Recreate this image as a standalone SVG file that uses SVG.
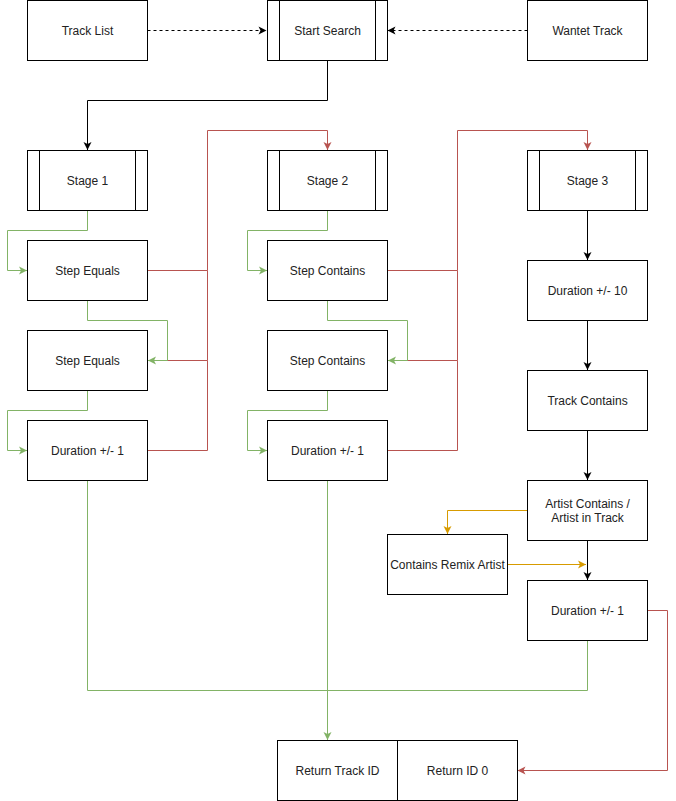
<svg xmlns="http://www.w3.org/2000/svg" width="676" height="801" viewBox="0 0 676 801">
<style>
.box{fill:#fff;stroke:#000;stroke-width:1}
.sub{fill:none;stroke:#000;stroke-width:1}
text{font-family:"Liberation Sans",Arial,Helvetica,sans-serif;font-size:12px;fill:#222;text-anchor:middle}
.e{fill:none;stroke-width:1}
.k{stroke:#000}
.g{stroke:#82b366}
.r{stroke:#b85450}
.o{stroke:#d79b00}
.d{stroke-dasharray:3 3}
</style>
<defs>
<marker id="ak" viewBox="0 0 10 10" refX="9" refY="5" markerWidth="10" markerHeight="10" markerUnits="userSpaceOnUse" orient="auto"><path d="M1,1 L9,5 L1,9 L3,5 z" fill="#000"/></marker>
<marker id="ag" viewBox="0 0 10 10" refX="9" refY="5" markerWidth="10" markerHeight="10" markerUnits="userSpaceOnUse" orient="auto"><path d="M1,1 L9,5 L1,9 L3,5 z" fill="#82b366"/></marker>
<marker id="ar" viewBox="0 0 10 10" refX="9" refY="5" markerWidth="10" markerHeight="10" markerUnits="userSpaceOnUse" orient="auto"><path d="M1,1 L9,5 L1,9 L3,5 z" fill="#b85450"/></marker>
<marker id="ao" viewBox="0 0 10 10" refX="9" refY="5" markerWidth="10" markerHeight="10" markerUnits="userSpaceOnUse" orient="auto"><path d="M1,1 L9,5 L1,9 L3,5 z" fill="#d79b00"/></marker>
</defs>
<rect width="676" height="801" fill="#fff"/>
<g id="connectors">
<path class="e k d" d="M147.5,30.5 L266.5,30.5" marker-end="url(#ak)"/>
<path class="e k d" d="M527.5,30.5 L387.5,30.5" marker-end="url(#ak)"/>
<path class="e k" d="M327.5,60.5 L327.5,100.5 L87.5,100.5 L87.5,150" marker-end="url(#ak)"/>
<path class="e r" d="M147.5,270.5 L207.5,270.5 L207.5,130.5 L327.5,130.5 L327.5,150" marker-end="url(#ar)"/>
<path class="e r" d="M147.5,360.5 L207.5,360.5 L207.5,270.5"/>
<path class="e r" d="M147.5,450.5 L207.5,450.5 L207.5,360.5"/>
<path class="e r" d="M387.5,270.5 L457.5,270.5 L457.5,130.5 L587.5,130.5 L587.5,150" marker-end="url(#ar)"/>
<path class="e r" d="M387.5,360.5 L457.5,360.5 L457.5,270.5"/>
<path class="e r" d="M387.5,450.5 L457.5,450.5 L457.5,360.5"/>
<path class="e r" d="M647.5,610.5 L667.5,610.5 L667.5,770.5 L517.5,770.5" marker-end="url(#ar)"/>
<path class="e g" d="M87.5,210.5 L87.5,230.5 L7.5,230.5 L7.5,270.5 L27,270.5" marker-end="url(#ag)"/>
<path class="e g" d="M87.5,300.5 L87.5,320.5 L167.5,320.5 L167.5,360.5 L148,360.5" marker-end="url(#ag)"/>
<path class="e g" d="M87.5,390.5 L87.5,410.5 L7.5,410.5 L7.5,450.5 L27,450.5" marker-end="url(#ag)"/>
<path class="e g" d="M327.5,210.5 L327.5,230.5 L247.5,230.5 L247.5,270.5 L267,270.5" marker-end="url(#ag)"/>
<path class="e g" d="M327.5,300.5 L327.5,320.5 L407.5,320.5 L407.5,360.5 L388,360.5" marker-end="url(#ag)"/>
<path class="e g" d="M327.5,390.5 L327.5,410.5 L247.5,410.5 L247.5,450.5 L267,450.5" marker-end="url(#ag)"/>
<path class="e g" d="M87.5,480.5 L87.5,690.5 L587.5,690.5 L587.5,640.5"/>
<path class="e g" d="M327.5,480.5 L327.5,740" marker-end="url(#ag)"/>
<path class="e k" d="M587.5,210.5 L587.5,260" marker-end="url(#ak)"/>
<path class="e k" d="M587.5,320.5 L587.5,370" marker-end="url(#ak)"/>
<path class="e k" d="M587.5,430.5 L587.5,480" marker-end="url(#ak)"/>
<path class="e k" d="M587.5,540.5 L587.5,580" marker-end="url(#ak)"/>
<path class="e o" d="M527.5,510.5 L447.5,510.5 L447.5,534" marker-end="url(#ao)"/>
<path class="e o" d="M507.5,564.5 L586,564.5" marker-end="url(#ao)"/>
</g>
<g id="track-list"><rect class="box" x="27.5" y="0.5" width="120" height="60"/><text x="87.5" y="34.5">Track List</text></g>
<g id="start-search"><rect class="box" x="267.5" y="0.5" width="120" height="60"/><path class="sub" d="M279.5,0.5 V60.5 M375.5,0.5 V60.5"/><text x="327.5" y="34.5">Start Search</text></g>
<g id="wantet-track"><rect class="box" x="527.5" y="0.5" width="120" height="60"/><text x="587.5" y="34.5">Wantet Track</text></g>
<g id="stage-1"><rect class="box" x="27.5" y="150.5" width="120" height="60"/><path class="sub" d="M39.5,150.5 V210.5 M135.5,150.5 V210.5"/><text x="87.5" y="184.5">Stage 1</text></g>
<g id="step-equals-1"><rect class="box" x="27.5" y="240.5" width="120" height="60"/><text x="87.5" y="274.5">Step Equals</text></g>
<g id="step-equals-2"><rect class="box" x="27.5" y="330.5" width="120" height="60"/><text x="87.5" y="364.5">Step Equals</text></g>
<g id="duration-1a"><rect class="box" x="27.5" y="420.5" width="120" height="60"/><text x="87.5" y="454.5">Duration +/- 1</text></g>
<g id="stage-2"><rect class="box" x="267.5" y="150.5" width="120" height="60"/><path class="sub" d="M279.5,150.5 V210.5 M375.5,150.5 V210.5"/><text x="327.5" y="184.5">Stage 2</text></g>
<g id="step-contains-1"><rect class="box" x="267.5" y="240.5" width="120" height="60"/><text x="327.5" y="274.5">Step Contains</text></g>
<g id="step-contains-2"><rect class="box" x="267.5" y="330.5" width="120" height="60"/><text x="327.5" y="364.5">Step Contains</text></g>
<g id="duration-1b"><rect class="box" x="267.5" y="420.5" width="120" height="60"/><text x="327.5" y="454.5">Duration +/- 1</text></g>
<g id="stage-3"><rect class="box" x="527.5" y="150.5" width="120" height="60"/><path class="sub" d="M539.5,150.5 V210.5 M635.5,150.5 V210.5"/><text x="587.5" y="184.5">Stage 3</text></g>
<g id="duration-10"><rect class="box" x="527.5" y="260.5" width="120" height="60"/><text x="587.5" y="294.5">Duration +/- 10</text></g>
<g id="track-contains"><rect class="box" x="527.5" y="370.5" width="120" height="60"/><text x="587.5" y="404.5">Track Contains</text></g>
<g id="artist-contains"><rect class="box" x="527.5" y="480.5" width="120" height="60"/><text x="587.5" y="507.5">Artist Contains /</text><text x="587.5" y="521.5">Artist in Track</text></g>
<g id="contains-remix"><rect class="box" x="387.5" y="534.5" width="120" height="60"/><text x="447.5" y="568.5">Contains Remix Artist</text></g>
<g id="duration-1c"><rect class="box" x="527.5" y="580.5" width="120" height="60"/><text x="587.5" y="614.5">Duration +/- 1</text></g>
<g id="return-track-id"><rect class="box" x="277.5" y="740.5" width="120" height="60"/><text x="337.5" y="774.5">Return Track ID</text></g>
<g id="return-id-0"><rect class="box" x="397.5" y="740.5" width="120" height="60"/><text x="457.5" y="774.5">Return ID 0</text></g>
</svg>
